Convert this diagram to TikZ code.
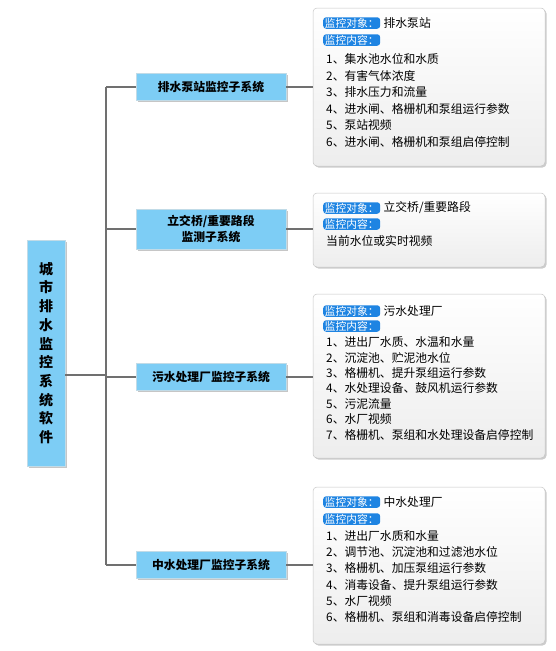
\documentclass[tikz,border=0pt]{standalone}
\usepackage{fontspec}
\setmainfont{Noto Sans CJK SC}
\usepackage{tikz}
\usetikzlibrary{positioning,shadows}

\definecolor{boxblue}{HTML}{7DCDF5}
\definecolor{tagblue}{HTML}{1E84E2}
\definecolor{linegray}{HTML}{707070}

\begin{document}
\begin{tikzpicture}[x=1pt,y=-1pt,
    mainbox/.style={rectangle,fill=boxblue,draw=boxblue!80!black!40,line width=0.3pt,
      drop shadow={shadow xshift=1.5pt,shadow yshift=-1.5pt,opacity=0.45},
      align=center,inner sep=0pt,font=\bfseries\fontsize{14}{18.7}\selectfont},
    subbox/.style={rectangle,fill=boxblue,draw=boxblue!80!black!40,line width=0.3pt,
      drop shadow={shadow xshift=1.5pt,shadow yshift=-1.5pt,opacity=0.45},
      minimum width=150pt,align=center,inner sep=0pt,
      font=\bfseries\fontsize{11.8}{16}\selectfont},
    infobox/.style={rectangle,rounded corners=4pt,draw=gray!45,line width=0.5pt,
      top color=white,bottom color=gray!14,
      drop shadow={shadow xshift=1.5pt,shadow yshift=-1.5pt,opacity=0.4},
      minimum width=232pt},
    tagbox/.style={rectangle,rounded corners=3pt,fill=tagblue,text=white,anchor=west,
      inner xsep=1.5pt,inner ysep=0pt,minimum height=11.5pt,font=\fontsize{10.8}{11}\selectfont},
    item/.style={anchor=west,inner sep=0pt,font=\fontsize{11.8}{14}\selectfont},
    link/.style={draw=linegray,line width=1.4pt}]

\useasboundingbox (0,0) rectangle (555,651);

% main box and subsystems
\node[mainbox,minimum width=38pt,minimum height=226pt] (main) at (46,353)
  {城\\市\\排\\水\\监\\控\\系\\统\\软\\件};
\node[subbox,minimum height=27pt] (sub1) at (211,87) {排水泵站监控子系统};
\node[subbox,minimum height=40pt] (sub2) at (211,229) {立交桥/重要路段\\监测子系统};
\node[subbox,minimum height=27pt] (sub3) at (211,377) {污水处理厂监控子系统};
\node[subbox,minimum height=27pt] (sub4) at (211,565) {中水处理厂监控子系统};

% detail boxes
\node[infobox,minimum height=158pt] (info1) at (429,87) {};
\node[infobox,minimum height=74pt] (info2) at (429,230) {};
\node[infobox,minimum height=164pt] (info3) at (429,376) {};
\node[infobox,minimum height=157pt] (info4) at (429,565.5) {};

% trunk
\coordinate (j1) at (106,87);
\coordinate (j2) at (106,229);
\coordinate (j3) at (106,377);
\coordinate (j4) at (106,565);
\coordinate (jm) at (106,375);

\draw[link] (j1) -- (j4);
\draw[link] (main.east |- jm) -- (jm);
\foreach \i in {1,...,4} {
  \draw[link] (j\i) -- (sub\i.west);
  \draw[link] (sub\i.east) -- (info\i.west |- sub\i.east);
}

% box 1
\node[tagbox] (t1a) at (323,23) {监控对象：};
\node[item,right=3pt of t1a] {排水泵站};
\node[tagbox] (t1b) at (323,40) {监控内容：};
\foreach \t [count=\i] in {1、集水池水位和水质,2、有害气体浓度,3、排水压力和流量,
    4、进水闸、格栅机和泵组运行参数,5、泵站视频,6、进水闸、格栅机和泵组启停控制}
  \node[item] at (326,{59+16.6*(\i-1)}) {\t};

% box 2
\node[tagbox] (t2a) at (323,208) {监控对象：};
\node[item,right=3pt of t2a] {立交桥/重要路段};
\node[tagbox] (t2b) at (323,224) {监控内容：};
\node[item] at (326,241) {当前水位或实时视频};

% box 3
\node[tagbox] (t3a) at (323,311) {监控对象：};
\node[item,right=3pt of t3a] {污水处理厂};
\node[tagbox] (t3b) at (323,326) {监控内容：};
\foreach \t [count=\i] in {1、进出厂水质、水温和水量,2、沉淀池、贮泥池水位,3、格栅机、提升泵组运行参数,
    4、水处理设备、鼓风机运行参数,5、污泥流量,6、水厂视频,7、格栅机、泵组和水处理设备启停控制}
  \node[item] at (326,{342+15.5*(\i-1)}) {\t};

% box 4
\node[tagbox] (t4a) at (323,502) {监控对象：};
\node[item,right=3pt of t4a] {中水处理厂};
\node[tagbox] (t4b) at (323,519) {监控内容：};
\foreach \t [count=\i] in {1、进出厂水质和水量,2、调节池、沉淀池和过滤池水位,3、格栅机、加压泵组运行参数,
    4、消毒设备、提升泵组运行参数,5、水厂视频,6、格栅机、泵组和消毒设备启停控制}
  \node[item] at (326,{536+16.2*(\i-1)}) {\t};

\end{tikzpicture}
\end{document}
